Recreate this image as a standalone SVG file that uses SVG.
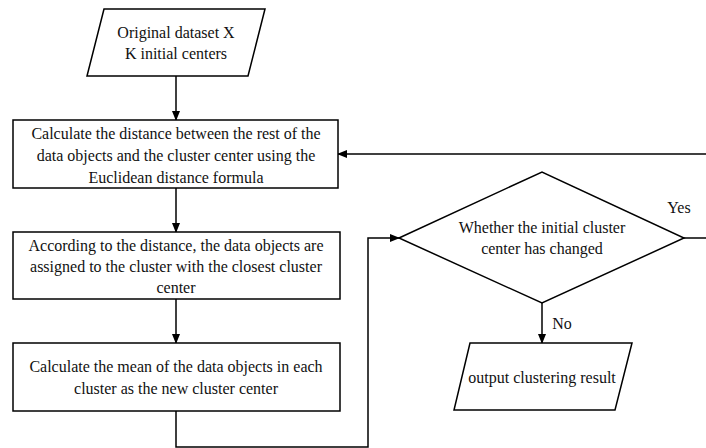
<svg xmlns="http://www.w3.org/2000/svg" width="706" height="448" viewBox="0 0 706 448">
<defs>
<marker id="arr" markerWidth="10" markerHeight="10" refX="9" refY="5" orient="auto" markerUnits="userSpaceOnUse">
<path d="M0,1 L10,5 L0,9 Z" fill="#000"/>
</marker>
<style>
.s{fill:#fff;stroke:#000;stroke-width:1.5}
.t{font-family:"Liberation Serif","Times New Roman",serif;font-size:16px;fill:#111;text-anchor:middle}
.c{fill:none;stroke:#000;stroke-width:1.5}
</style>
</defs>
<rect width="706" height="448" fill="#fff"/>
<g id="connectors">
<line class="c" x1="176" y1="76" x2="176" y2="120" marker-end="url(#arr)"/>
<line class="c" x1="176" y1="188" x2="176" y2="232" marker-end="url(#arr)"/>
<line class="c" x1="176" y1="299" x2="176" y2="343" marker-end="url(#arr)"/>
<polyline class="c" points="176,411 176,447 368,447 368,238 399,238" marker-end="url(#arr)"/>
<polyline class="c" points="684,238 706,238"/>
<polyline class="c" points="706,154 338,154" marker-end="url(#arr)"/>
<line class="c" x1="542" y1="303" x2="542" y2="343" marker-end="url(#arr)"/>
<text class="t" x="679" y="213">Yes</text>
<text class="t" x="562" y="329">No</text>
</g>
<g id="input">
<polygon class="s" points="104,9 265,9 248,76 87,76"/>
<text class="t" x="176" y="38">Original dataset X</text>
<text class="t" x="176" y="59">K initial centers</text>
</g>
<g id="distance">
<rect class="s" x="13" y="120" width="325" height="68"/>
<text class="t" x="176" y="139">Calculate the distance between the rest of the</text>
<text class="t" x="176" y="161">data objects and the cluster center using the</text>
<text class="t" x="176" y="183">Euclidean distance formula</text>
</g>
<g id="assign">
<rect class="s" x="13" y="232" width="327" height="67"/>
<text class="t" x="176" y="251">According to the distance, the data objects are</text>
<text class="t" x="176" y="272">assigned to the cluster with the closest cluster</text>
<text class="t" x="176" y="293">center</text>
</g>
<g id="mean">
<rect class="s" x="13" y="343" width="327" height="68"/>
<text class="t" x="176" y="372">Calculate the mean of the data objects in each</text>
<text class="t" x="176" y="394">cluster as the new cluster center</text>
</g>
<g id="decision">
<polygon class="s" points="399,238 542,172 684,238 542,303"/>
<text class="t" x="542" y="233">Whether the initial cluster</text>
<text class="t" x="542" y="254">center has changed</text>
</g>
<g id="output">
<polygon class="s" points="470,343 632,343 615,410 454,410"/>
<text class="t" x="542" y="383">output clustering result</text>
</g>
</svg>
